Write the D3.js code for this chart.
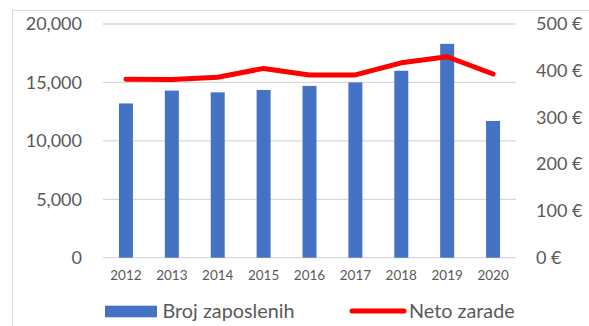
<!DOCTYPE html>
<html>
<head>
<meta charset="utf-8">
<script src="https://cdn.jsdelivr.net/npm/d3@7"></script>
<style>
  html, body { margin: 0; padding: 0; background: #fff; }
  svg { display: block; font-family: Lato, "Open Sans", sans-serif; }
</style>
</head>
<body>
<svg id="chart" width="589" height="326"></svg>
<script>
// Employees and net salary per year
const years = ["2012", "2013", "2014", "2015", "2016", "2017", "2018", "2019", "2020"];
const employees = [13200, 14300, 14150, 14350, 14700, 15000, 16000, 18300, 11700];
const netSalary = [382, 381, 386, 405, 391, 391, 417, 430, 393];
const leftTicks = [0, 5000, 10000, 15000, 20000];
const rightTicks = [0, 100, 200, 300, 400, 500];
const seriesNames = ["Broj zaposlenih", "Neto zarade"];

const svg = d3.select("#chart");
const plot = { left: 103, right: 516, top: 24, bottom: 257.7 };

// outer frame (only its top and left edges fall inside the view)
svg.append("rect")
  .attr("x", 12.5).attr("y", 10.5)
  .attr("width", 620).attr("height", 340)
  .attr("fill", "none").attr("stroke", "#d9d9d9").attr("stroke-width", 1);

const x = d3.scaleBand().domain(years).range([plot.left, plot.right]).paddingInner(0.695).paddingOuter(0.3475);
const yL = d3.scaleLinear().domain([0, 20000]).range([plot.bottom, plot.top]);
const yR = d3.scaleLinear().domain([0, 500]).range([plot.bottom, plot.top]);

// gridlines
svg.append("g").selectAll("line").data(leftTicks).join("line")
  .attr("x1", plot.left).attr("x2", plot.right)
  .attr("y1", d => yL(d)).attr("y2", d => yL(d))
  .attr("stroke", "#d9d9d9").attr("stroke-width", 1.3);

// bars
svg.append("g").selectAll("rect").data(years).join("rect")
  .attr("x", d => x(d))
  .attr("width", x.bandwidth())
  .attr("y", (d, i) => yL(employees[i]))
  .attr("height", (d, i) => plot.bottom - yL(employees[i]))
  .attr("fill", "#4472c4");

// line
const line = d3.line()
  .x((d, i) => x(years[i]) + x.bandwidth() / 2)
  .y(d => yR(d));
svg.append("path").datum(netSalary)
  .attr("d", line)
  .attr("fill", "none").attr("stroke", "#ff0000")
  .attr("stroke-width", 5).attr("stroke-linejoin", "round").attr("stroke-linecap", "round");

// left axis
const fmt = d3.format(",");
const leftAxis = d3.axisLeft(yL).tickValues(leftTicks).tickFormat(fmt).tickSize(0).tickPadding(0);
const gL = svg.append("g").attr("transform", "translate(82,0)").call(leftAxis);
gL.select(".domain").remove();
gL.selectAll("text").attr("fill", "#595959").style("font-size", "18px").style("font-family", "Lato");

// right axis
const rightAxis = d3.axisRight(yR).tickValues(rightTicks).tickFormat(d => d + " €").tickSize(0).tickPadding(0);
const gR = svg.append("g").attr("transform", "translate(536,0)").call(rightAxis);
gR.select(".domain").remove();
gR.selectAll("text").attr("fill", "#595959").style("font-size", "18px").style("font-family", "Lato");

// category axis
const bottomAxis = d3.axisBottom(x).tickSize(0).tickPadding(0);
const gB = svg.append("g").attr("transform", "translate(0,270)").call(bottomAxis);
gB.select(".domain").remove();
gB.selectAll("text").attr("fill", "#595959").style("font-size", "13.5px").style("font-family", "Lato");

// legend
const lg = svg.append("g");
lg.append("rect").attr("x", 105).attr("y", 305.7).attr("width", 52).attr("height", 11.6).attr("fill", "#4472c4");
lg.append("text").attr("x", 162.5).attr("y", 318).text(seriesNames[0])
  .attr("fill", "#595959").style("font-size", "19.8px");
lg.append("line").attr("x1", 352).attr("x2", 404).attr("y1", 311).attr("y2", 311)
  .attr("stroke", "#ff0000").attr("stroke-width", 5).attr("stroke-linecap", "round");
lg.append("text").attr("x", 409).attr("y", 318).text(seriesNames[1])
  .attr("fill", "#595959").style("font-size", "19.8px");
</script>
</body>
</html>
